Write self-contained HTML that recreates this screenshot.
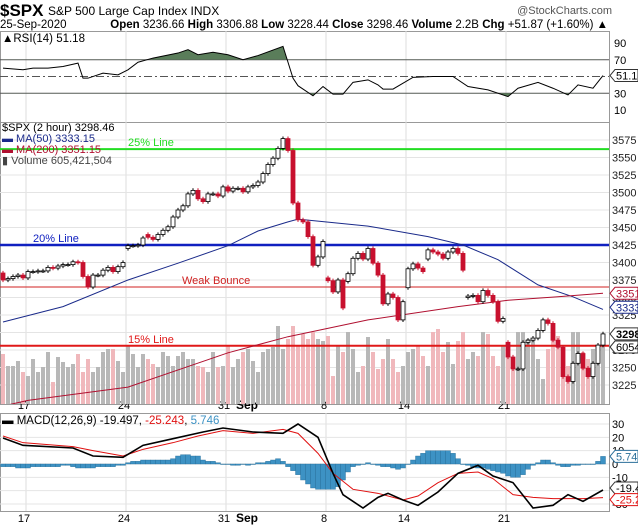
<!DOCTYPE html>
<html><head><meta charset="utf-8"><style>
html,body{margin:0;padding:0;background:#fff;}
svg{display:block;font-family:"Liberation Sans",sans-serif;}
</style></head><body>
<svg id="c" width="638" height="529" viewBox="0 0 638 529" xmlns="http://www.w3.org/2000/svg">
<rect width="638" height="529" fill="#fff"/>
<text x="0" y="16" font-size="17" font-weight="bold">$SPX</text>
<text x="48" y="15" font-size="12">S&amp;P 500 Large Cap Index  INDX</text>
<text x="612" y="14" font-size="11" fill="#555" text-anchor="end">@StockCharts.com</text>
<text x="0" y="28" font-size="11.5">25-Sep-2020</text>
<text x="608" y="28" font-size="11.5" text-anchor="end"><tspan font-weight="bold">Open</tspan> 3236.66 <tspan font-weight="bold">High</tspan> 3306.88 <tspan font-weight="bold">Low</tspan> 3228.44 <tspan font-weight="bold">Close</tspan> 3298.46 <tspan font-weight="bold">Volume</tspan> 2.2B <tspan font-weight="bold">Chg</tspan> +51.87 (+1.60%) ▲</text>
<g id="g"></g>
</svg>
<script>
const closes=[3375,3377,3380,3382,3378, 3387,3387,3388,3388,3393, 3392,3395,3397,3397,3401, 3400,3380,3365,3382,3382,
3389,3393,3387,3394,3400, 3424,3424,3425,3435,3436, 3433,3440,3446,3451,3465, 3475,3481,3498,3503,3491,
3487,3498,3498,3495,3508, 3502,3506,3506,3501,3508, 3510,3515,3527,3540,3549, 3563,3577,3560,3485,3461,
3458,3437,3396,3408,3430, 3374,3358,3375,3335,3384, 3406,3413,3405,3420,3399, 3382,3341,3355,3350,3318,
3344,3391,3398,3392,3387, 3418,3415,3412,3406,3415, 3420,3413,3389,3352,3353, 3344,3360,3353,3344,3316,
3320,3265,3248,3248,3286, 3289,3292,3303,3318,3313, 3289,3279,3237,3230,3256, 3270,3249,3237,3256,3282, 3298];
const openIdx=[0,25,29,65,69,81,85,93,101,104,113];
const openVal=[3385,3420,3440,3378,3373,3364,3405,3350,3286,3248,3237];
const volumes=[500,380,380,430,320, 280,450,320,370,520, 220,470,420,370,400, 500,320,450,320,370,
520,550,550,430,320, 580,500,370,500,450, 400,370,520,480,380, 480,520,450,450,380,
370,320,520,370,380, 580,370,450,520,550, 430,320,520,550,570, 780,550,650,780,580,
700,650,720,650,630,680,280,580,520,720, 550,320,380,670,520, 350,450,650,450,320,
380,520,550,580,480, 380,720,750,520,620, 400,630,720,450,520, 480,720,700,480,380,
580,520,420,720,720, 650,650,450,250,550, 720,680,520,380,720, 720,520,450,550,550, 605];
const rsiBar=[0,4,6,9,12,15,16,17,20,23,25,27,30,35,37,39,42,45,48,51,56,58,59,62,64,66,68,70,73,75,76,78,82,86,90,93,97,101,103,107,110,113,115,118,120];
const rsiVal=[60,58,60,60,62,66,48,48,54,52,58,67,72,78,82,76,79,76,70,75,86,48,39,27,38,29,29,43,46,40,35,35,49,50,50,38,34,26,36,43,36,28,40,36,51.18];
const ma50Bar=[0,12,25,35,45,51,57,59,73,85,92,99,107,114,120];
const ma50Val=[3315,3337,3375,3399,3424,3445,3458,3462,3452,3437,3425,3404,3368,3351,3333];
const ma200Bar=[0,5,25,45,57,73,91,101,111,120];
const ma200Val=[3195,3203,3222,3271,3294,3318,3337,3346,3351,3356];
const macdBar=[0,4,14,18,24,28,34,40,44,50,56,59,63,66,68,72,75,77,80,83,87,91,95,98,102,106,110,113,116,120];
const macdVal=[19.5,14,12,6,5,14,19,24,27,24,23,30,20,-7,-23,-33,-25,-22,-27,-31,-21,-7,-1,-9,-14,-33,-31,-23,-28,-19.5];
const sigBar=[0,4,14,18,24,28,34,39,44,50,56,59,63,66,70,75,80,83,87,91,95,98,102,106,110,116,120];
const sigVal=[21,16,13,10,6,11,16,21,25,23,26,23,8,-7,-19,-22,-27,-24,-14,-7,-6,-11,-23,-25,-26,-26,-25.2];
const hist=[-2,-2,-2,-3,-3, -3,-2,-2,-2,-2, -2,-2,-1,-1,-2, -3,-3,-3,-3,-2, -2,-2,-2,-1,-1,
1,2,2,3,3, 3,3,3,3,4, 6,7,7,6,6, 3,2,2,1,0, 0,-1,-1,0,-1, 0,1,1,2,3, 4,2,-2,-5,-8,
-12,-15,-18,-19,-19, -19,-19,-17,-12,-6, -2,-1,0,1,0, -1,-2,-2,-3,-4, -3,0,3,6,8,
10,10,10,10,10, 8,4,0,-1,-2, -3,-3,-4,-5,-6, -7,-9,-10,-10,-8, -4,-1,1,3,3, 1,-1,-2,-2,-1, -1,0,0,0,2, 5.7];
const priceTicks=[3575,3550,3525,3500,3475,3450,3425,3400,3375,3350,3325,3300,3275,3250,3225];
const rsiTicks=[90,70,30,10];
const macdTicks=[30,20,10,0,-10,-20,-30];
const dateLabels=["17","24","31","8","14","21"];
const dateBars=[5,25,45,65,81,101];

const NS="http://www.w3.org/2000/svg";
const G=document.getElementById('g');
function el(t,a,p){const e=document.createElementNS(NS,t);for(const k in a)e.setAttribute(k,a[k]);(p||G).appendChild(e);return e;}
const R=609;
const bx=i=>3+5*i;
const py=p=>140+(3575-p)*0.7;
const ry=v=>43+(90-v)*0.8375;
const my=v=>464-v*1.333;
// panels
const panels=[[31,122],[122,404],[413,511]];
const pnames=['rsi-panel','price-panel','macd-panel'];
panels.forEach((p,k)=>{const r=el('rect',{x:0.5,y:p[0]+0.5,width:R,height:p[1]-p[0],fill:'none',stroke:'#999'});

});
// vertical grid
dateBars.forEach(b=>{panels.forEach(p=>{const l=el('line',{x1:bx(b)-2,x2:bx(b)-2,y1:p[0],y2:p[1],stroke:'#ddd'});

});});
// date labels
[409,522].forEach((yy,k)=>{dateLabels.forEach((d,j)=>{const t=el('text',{x:bx(dateBars[j])-4,y:yy,'font-size':11,'text-anchor':'middle'});t.textContent=d;

});
const s=el('text',{x:247,y:yy,'font-size':12,'font-weight':'bold','text-anchor':'middle'});s.textContent='Sep';

});
// price grid + ticks
priceTicks.forEach(p=>{const l=el('line',{x1:0,x2:R,y1:py(p),y2:py(p),stroke:'#e4e4e4'});


const t=el('text',{x:612,y:py(p)+4,'font-size':11,fill:'#222'});t.textContent=p;

});
// RSI
rsiTicks.forEach(v=>{if(v==70||v==30){const l=el('line',{x1:0,x2:R,y1:ry(v),y2:ry(v),stroke:'#555'});

}
const t=el('text',{x:614,y:ry(v)+4,'font-size':11});t.textContent=v;

});
const r50=el('line',{x1:0,x2:R,y1:ry(50),y2:ry(50),stroke:'#555','stroke-dasharray':'8,3,2,3'});


const rpts=rsiBar.map((b,i)=>[bx(b),ry(rsiVal[i])]);
// fills
const defs=el('defs',{});
const cp1=el('clipPath',{id:'above70'},defs);el('rect',{x:0,y:0,width:R,height:ry(70)},cp1);
const cp2=el('clipPath',{id:'below30'},defs);el('rect',{x:0,y:ry(30),width:R,height:40},cp2);
const area70=el('path',{d:'M'+rpts[0][0]+','+ry(70)+rpts.map(p=>'L'+p.join(',')).join('')+'L'+rpts[rpts.length-1][0]+','+ry(70)+'Z',fill:'#5a7d5a','clip-path':'url(#above70)'});


const area30=el('path',{d:'M'+rpts[0][0]+','+ry(30)+rpts.map(p=>'L'+p.join(',')).join('')+'L'+rpts[rpts.length-1][0]+','+ry(30)+'Z',fill:'#5a7d5a','clip-path':'url(#below30)'});


const rl=el('polyline',{points:rpts.map(p=>p.join(',')).join(' '),fill:'none',stroke:'#000','stroke-width':1});


const rt=el('text',{x:2,y:42,'font-size':11.5});rt.textContent='▲RSI(14) 51.18';


function tag(y,txt,col,bold,name){const p=el('path',{d:`M${R+1},${y} L${R+6},${y-6} L638,${y-6} L638,${y+6} L${R+6},${y+6} Z`,fill:'#fff',stroke:col});


const t=el('text',{x:R+7,y:y+4,'font-size':11,fill:col==='#333'?'#000':col,'font-weight':bold?'bold':'normal'});t.textContent=txt;

}
tag(ry(51.18),'51.18','#333',false,'rsi-last');
// volume
const open=closes.map((c,i)=>i?closes[i-1]:c);
openIdx.forEach((b,k)=>open[b]=openVal[k]);
const vbot=404;
volumes.forEach((v,i)=>{const h=v*0.1;const up=closes[i]>=open[i];
const r=el('rect',{x:bx(i)-2,y:vbot-h,width:4,height:h,fill:up?'#b8b8b8':'#f0b8bc'});

});
// horizontal level lines
function hline(p,col,w,lbl,lx,name){const l=el('line',{x1:0,x2:R,y1:py(p),y2:py(p),stroke:col,'stroke-width':w});


const t=el('text',{x:lx,y:py(p)-3,'font-size':11,fill:col});t.textContent=lbl;

}
hline(3562,'#22dd22',2,'25% Line',128,'line-25-pct');
hline(3425,'#1020c0',2.5,'20% Line',33,'line-20-pct');
hline(3365,'#d02020',1,'Weak Bounce',182,'weak-bounce-line');
hline(3281,'#e01818',2,'15% Line',128,'line-15-pct');
// MAs
const m50=el('polyline',{points:ma50Bar.map((b,i)=>bx(b)+','+py(ma50Val[i])).join(' '),fill:'none',stroke:'#1a2a8a','stroke-width':1});


const cpm=el('clipPath',{id:'pclip'},defs);el('rect',{x:0,y:122,width:R,height:282},cpm);
const m200=el('polyline',{points:ma200Bar.map((b,i)=>bx(b)+','+py(ma200Val[i])).join(' '),fill:'none',stroke:'#b01030','stroke-width':1,'clip-path':'url(#pclip)'});


// candles
closes.forEach((c,i)=>{const o=open[i];const up=c>=o;const hi=Math.max(o,c)+3,lo=Math.min(o,c)-3;const x=bx(i);
const w=el('line',{x1:x,x2:x,y1:py(hi),y2:py(lo),stroke:up?'#000':'#c8102e'});


const top=py(Math.max(o,c)),h=Math.max(1,Math.abs(py(o)-py(c)));
const b=el('rect',{x:x-2,y:top,width:4,height:h,fill:up?'#fff':'#c8102e',stroke:up?'#000':'#c8102e','stroke-width':0.8});

});
// price legend
[['$SPX (2 hour) 3298.46','#000',131],['▬ MA(50) 3333.15','#1a2a8a',142],['▬ MA(200) 3351.15','#b01030',153],['▮ Volume 605,421,504','#444',164]].forEach((a,k)=>{
const t=el('text',{x:2,y:a[2],'font-size':11,fill:a[1]});t.textContent=a[0];

});
tag(py(3356),'3351','#b01030',false,'ma200-last');
tag(py(3336),'3333','#1a2a8a',false,'ma50-last');
tag(py(3298),'3298.46','#333',true,'close-last');
tag(347,'605421504','#333',false,'volume-last');
// MACD
macdTicks.forEach(v=>{const l=el('line',{x1:0,x2:R,y1:my(v),y2:my(v),stroke:'#e4e4e4'});


const t=el('text',{x:612,y:my(v)+4,'font-size':11});t.textContent=v;

});
hist.forEach((v,i)=>{const y0=my(0),y1=my(v);
const r=el('rect',{x:bx(i)-2.5,y:Math.min(y0,y1),width:5,height:Math.max(0.5,Math.abs(y1-y0)),fill:'#3d92c4',stroke:'#2a6f99','stroke-width':0.4});

});
const sl=el('polyline',{points:sigBar.map((b,i)=>bx(b)+','+my(sigVal[i])).join(' '),fill:'none',stroke:'#e01010','stroke-width':1});


const ml=el('polyline',{points:macdBar.map((b,i)=>bx(b)+','+my(macdVal[i])).join(' '),fill:'none',stroke:'#000','stroke-width':1.6});


const mt=el('text',{x:2,y:424,'font-size':11.5});
mt.innerHTML='<tspan font-weight="bold">▬</tspan> MACD(12,26,9) -19.497, <tspan fill="#e01010">-25.243</tspan>, <tspan fill="#3d92c4">5.746</tspan>';


tag(my(5.746),'5.746','#2a6f99',false,'histogram-last');
tag(my(-19.497)-2,'-19.497','#333',false,'macd-last');
tag(my(-25.243)+2,'-25.243','#e01010',false,'signal-last');
</script>
</body></html>
